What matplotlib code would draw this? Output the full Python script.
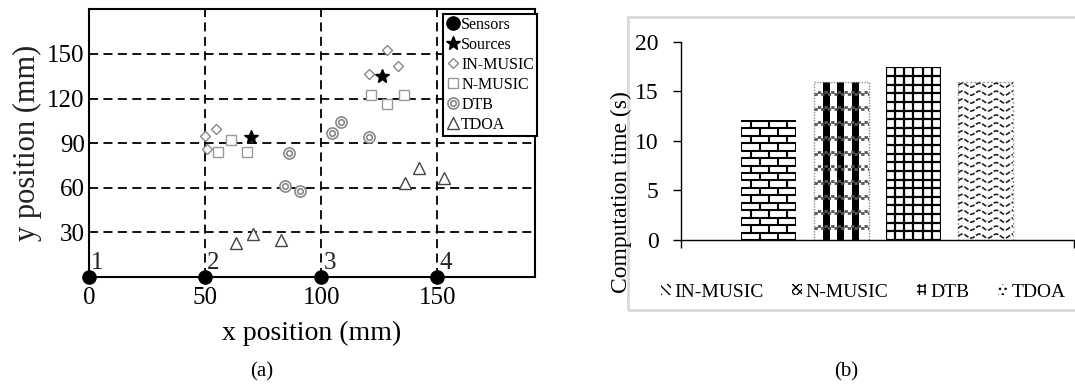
import numpy as np
import matplotlib
matplotlib.use("Agg")
import matplotlib.pyplot as plt
from matplotlib.collections import LineCollection
from matplotlib.patches import Patch, Rectangle

plt.rcParams["font.family"] = ["Liberation Serif", "DejaVu Serif"]

# (a) localisation results, positions in mm
sensors_x = [0, 50, 100, 150]
sensors_y = [0, 0, 0, 0]
sensor_ids = ["1", "2", "3", "4"]
sources_x = [69.7, 126.2]
sources_y = [94.3, 135.2]
in_music_x = [50.1, 54.5, 50.7, 120.4, 128.4, 132.9]
in_music_y = [94.8, 99.3, 86.0, 136.5, 152.7, 141.9]
n_music_x = [55.4, 61.3, 67.8, 121.5, 128.4, 135.5]
n_music_y = [84.2, 92.1, 84.2, 122.4, 116.1, 122.4]
dtb_x = [86.3, 84.2, 90.7, 104.8, 108.5, 120.7]
dtb_y = [83.1, 61.1, 57.7, 96.6, 104.0, 93.9]
tdoa_x = [63.1, 70.5, 82.8, 136.2, 141.9, 152.8]
tdoa_y = [22.9, 29.2, 25.2, 63.3, 73.0, 66.7]
xticks_a = [0, 50, 100, 150]
yticks_a = [30, 60, 90, 120, 150]

# (b) computation time in seconds
methods = ["IN-MUSIC", "N-MUSIC", "DTB", "TDOA"]
comp_time = [12.1, 15.9, 17.4, 15.9]
yticks_b = [0, 5, 10, 15, 20]


def clipped(ax, bar, segs, **kw):
    lc = LineCollection(segs, **kw)
    ax.add_collection(lc)
    lc.set_clip_path(bar)


def brick(ax, bar, row=0.75):
    x0, w, h = bar.get_x(), bar.get_width(), bar.get_height()
    bw = w / 3
    ys = np.arange(0, h + row, row)
    segs = [[(x0, y), (x0 + w, y)] for y in ys]
    for i, y in enumerate(ys):
        off = 0 if i % 2 == 0 else bw / 2
        for xv in np.arange(x0 - bw + off, x0 + w + bw, bw):
            segs.append([(xv, y), (xv, y + row)])
    clipped(ax, bar, segs, colors="k", linewidths=1.5)


def checker(ax, bar):
    x0, w, h = bar.get_x(), bar.get_width(), bar.get_height()
    segs = [[(x0 + f * w, 0), (x0 + f * w, h)] for f in (0.22, 0.48, 0.76)]
    clipped(ax, bar, segs, colors="k", linewidths=5)
    for y in np.arange(1.2, h, 1.5):
        for dy, off in ((0, 0), (0.22, 1.2)):
            clipped(ax, bar, [[(x0, y + dy), (x0 + w, y + dy)]],
                    colors="#555555", linewidths=2,
                    linestyles=[(off, (1.2, 1.2))])
    ax.add_patch(Rectangle((x0, 0), w, h, fill=False, ec="#888888",
                           lw=1, ls=(0, (1, 1))))


def grid_pattern(ax, bar):
    x0, w, h = bar.get_x(), bar.get_width(), bar.get_height()
    segs = [[(x0 + k * w / 6, 0), (x0 + k * w / 6, h)] for k in range(7)]
    segs += [[(x0, y), (x0 + w, y)] for y in np.arange(0, h, 0.87)]
    segs.append([(x0, h), (x0 + w, h)])
    clipped(ax, bar, segs, colors="k", linewidths=1.6)


def waves(ax, bar):
    x0, w, h = bar.get_x(), bar.get_width(), bar.get_height()
    xs = np.linspace(x0, x0 + w, 200)
    segs = []
    for base in np.arange(0.4, h + 0.4, 0.8):
        ys = base + 0.2 * np.sin(2 * np.pi * (xs - x0) / 0.234)
        segs.append(np.column_stack([xs, ys]))
    clipped(ax, bar, segs, colors="#222222", linewidths=1.2,
            linestyles=[(0, (3, 1))])
    ax.add_patch(Rectangle((x0, 0), w, h, fill=False, ec="#999999",
                           lw=1, ls=(0, (1.5, 1.5))))


fig = plt.figure(figsize=(10.75, 3.88), dpi=100)

# ---- (a)
ax = fig.add_axes([0.0828, 0.286, 0.4149, 0.690])
ax.set_xlim(0, 192)
ax.set_ylim(0, 180)
ax.set_xticks(xticks_a)
ax.set_yticks(yticks_a)
ax.tick_params(length=0, labelsize=18)
ax.tick_params(axis="x", pad=7)
ax.tick_params(axis="y", pad=3)
ax.grid(True, color="k", ls=(0, (5, 3)), lw=1.3)
ax.set_axisbelow(True)
for s in ax.spines.values():
    s.set_linewidth(1.5)

h_sen, = ax.plot(sensors_x, sensors_y, "o", color="k", ms=9.5,
                 clip_on=False, zorder=5)
for x, y, t in zip(sensors_x, sensors_y, sensor_ids):
    ax.annotate(t, (x, y), xytext=(1.5, 2), textcoords="offset points",
                fontsize=18, color="#222222", ha="left", va="bottom")
h_src, = ax.plot(sources_x, sources_y, "*", color="k", ms=10, zorder=4)
h_in, = ax.plot(in_music_x, in_music_y, "D", mfc="white", mec="#888888",
                ms=5.5, mew=1)
h_nm, = ax.plot(n_music_x, n_music_y, "s", mfc="white", mec="#999999",
                ms=7, mew=1)
h_d1, = ax.plot(dtb_x, dtb_y, "o", mfc="white", mec="#888888", ms=8, mew=1.2)
h_d2, = ax.plot(dtb_x, dtb_y, "o", mfc="white", mec="#888888", ms=4, mew=1.2)
h_td, = ax.plot(tdoa_x, tdoa_y, "^", mfc="white", mec="#444444", ms=8, mew=1)

leg = ax.legend([h_sen, h_src, h_in, h_nm, (h_d1, h_d2), h_td],
                ["Sensors", "Sources", "IN-MUSIC", "N-MUSIC", "DTB", "TDOA"],
                loc="upper right", bbox_to_anchor=(1.012, 0.995),
                fontsize=11.5, fancybox=False, framealpha=1, edgecolor="k",
                borderpad=0.2, handletextpad=0.05, labelspacing=0.25,
                handlelength=0.9, borderaxespad=0.2)
leg.get_frame().set_linewidth(1.5)

ax.set_xlabel("x position (mm)", fontsize=20, labelpad=9)
ax.set_ylabel("y position (mm)", fontsize=22, labelpad=4, color="#222222")

# ---- (b)
fig.patches.append(Rectangle((0.584, 0.201), 0.45, 0.755, fill=False,
                             ec="#d9d9d9", lw=2, transform=fig.transFigure))
ax2 = fig.add_axes([0.6335, 0.3814, 0.3655, 0.5114])
pos = np.arange(len(methods))
bars = ax2.bar(pos, comp_time, width=0.76, color="white", edgecolor="none")
ax2.set_xlim(-1.215, 4.22)
ax2.set_ylim(0, 20)
for fn, b in zip([brick, checker, grid_pattern, waves], bars):
    fn(ax2, b)

for k in ("top", "right"):
    ax2.spines[k].set_visible(False)
ax2.spines["left"].set_linewidth(1)
ax2.spines["bottom"].set_linewidth(1)
ax2.set_yticks(yticks_b)
ax2.set_xticks([-1.215, 4.22])
ax2.set_xticklabels([])
ax2.tick_params(axis="y", direction="out", length=6, width=1,
                labelsize=17, pad=10)
ax2.tick_params(axis="x", direction="out", length=6, width=1)
fig.text(621 / 1075, 1 - 192 / 388, "Computation time (s)", rotation=90,
         ha="center", va="center", fontsize=17)

handles = [Patch(facecolor="white", edgecolor="k", lw=0, hatch=h)
           for h in ("\\\\\\\\", "xxxx", "+++", "...")]
fig.legend(handles, methods, loc="center", bbox_to_anchor=(0.803, 0.247),
           ncol=4, fontsize=14, frameon=False, handlelength=0.5,
           handleheight=0.5, handletextpad=0.2, columnspacing=1.45)

fig.text(262 / 1075, 1 - 372 / 388, "(a)", ha="center", va="center",
         fontsize=15)
fig.text(846 / 1075, 1 - 372 / 388, "(b)", ha="center", va="center",
         fontsize=15)

fig.savefig("out.png", dpi=100)
